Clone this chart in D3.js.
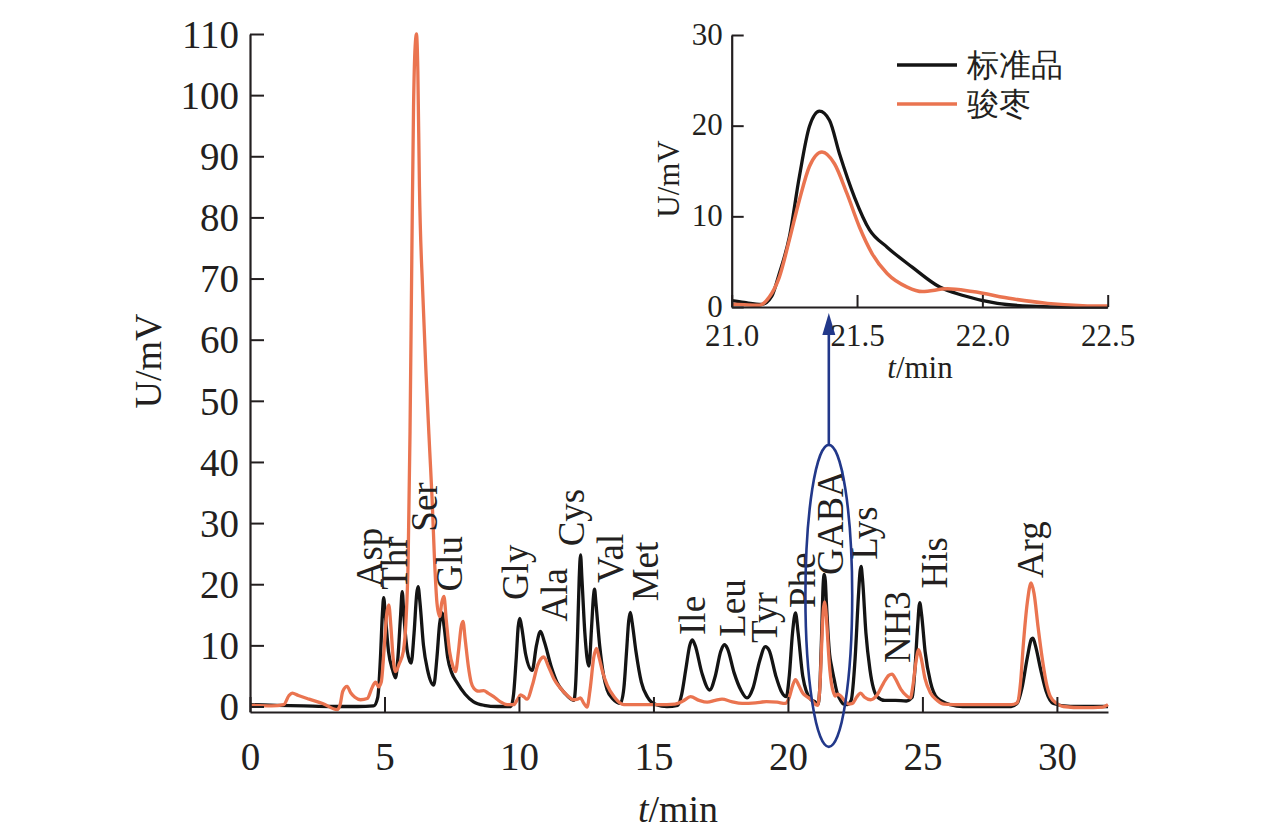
<!DOCTYPE html>
<html><head><meta charset="utf-8">
<script src="https://cdn.jsdelivr.net/npm/d3@7"></script>
<style>
html,body{margin:0;padding:0;background:#fff;}
svg text{font-family:"Liberation Serif","Times New Roman",serif;fill:#231f20;}
</style></head>
<body>
<svg id="chart" width="1276" height="831"></svg>
<script>
// ---------- DATA ----------
// Main chromatogram: standard (标准品) [t(min), U(mV)]
const stdT = [0,1.0,2.0,3.0,4.0,4.6,4.75,4.85,4.92,4.97,5.03,5.15,5.3,5.41,5.5,5.6,5.66,5.72,5.85,5.99,6.1,6.2,6.25,6.32,6.45,6.6,6.83,6.95,7.05,7.14,7.22,7.35,7.5,7.7,8.0,8.3,8.7,9.2,9.7,9.8,9.9,9.97,10.03,10.1,10.25,10.49,10.65,10.8,10.95,11.2,11.42,11.7,12.04,12.1,12.18,12.24,12.29,12.34,12.45,12.6,12.7,12.77,12.81,12.86,13.0,13.15,13.28,13.5,13.77,13.9,14.0,14.08,14.14,14.2,14.35,14.55,14.77,15.1,15.5,15.9,16.05,16.2,16.35,16.44,16.55,16.8,17.09,17.3,17.5,17.64,17.75,18.0,18.25,18.48,18.7,18.95,19.16,19.3,19.55,19.75,19.94,20.05,20.17,20.28,20.38,20.55,20.84,21.0,21.12,21.2,21.27,21.31,21.35,21.39,21.43,21.49,21.55,21.62,21.72,21.83,21.92,22.06,22.2,22.35,22.5,22.62,22.68,22.72,22.77,22.9,23.05,23.32,23.6,24.0,24.4,24.62,24.72,24.82,24.9,24.97,25.1,25.3,25.55,26.04,26.5,27.5,28.3,28.52,28.7,28.9,29.05,29.11,29.2,29.4,29.6,29.87,30.5,31.9];
const stdV = [0.3,0.2,0.1,0,0,0.1,1.5,8,15,17.8,15,9,6,4.7,8,15,18.8,15,9,7.1,12,18.5,19.6,17,10,6,3.5,8,13.5,15.3,13,8,5.5,3.9,2,0.8,0.2,0,0,2,8,13,14.4,13,8.5,5.9,10,12.3,10.5,6.5,3.9,2.2,1.0,3,12,21,24.8,21,12,6.6,13,18,19.2,17,10,5,2.7,1.2,0.5,3,9,14,15.4,14,9,4,1.6,0.3,0,0.2,2,6,10,10.9,10,5.5,2.7,5,9,10.1,9.5,5.5,2.7,1.4,3,7.5,9.8,9.2,5,2.5,1.6,5,12,15.3,12,5,1.2,0.8,0.3,4.5,14.4,20,21.6,20.6,16.9,12.1,8.5,6.6,4.4,2.2,1.3,0.4,0.3,1,8,18,22,22.9,21,12,6,1.6,1.0,1.0,0.9,1.5,6,13,17.0,15,9,4,1.4,0.3,0,0,0,0.5,3,8,11,11.2,10,6,2.5,0.5,0,0];
// Main chromatogram: sample (骏枣)
const smpT = [0,0.8,1.25,1.45,1.57,1.8,2.2,2.7,3.24,3.35,3.45,3.61,3.75,3.9,4.11,4.36,4.55,4.67,4.78,4.88,4.98,5.08,5.16,5.24,5.32,5.41,5.55,5.7,5.8,5.88,5.95,6.02,6.08,6.14,6.19,6.24,6.3,6.42,6.55,6.68,6.77,6.86,6.95,7.05,7.13,7.21,7.3,7.42,7.55,7.64,7.75,7.85,7.92,8.0,8.12,8.22,8.32,8.5,8.69,8.85,9.06,9.3,9.56,9.8,9.95,10.06,10.18,10.3,10.5,10.7,10.92,11.1,11.3,11.54,11.8,12.04,12.18,12.29,12.4,12.53,12.65,12.78,12.88,12.98,13.12,13.28,13.55,13.9,14.5,15.2,15.8,16.1,16.38,16.7,17.0,17.3,17.55,17.9,18.3,18.8,19.2,19.6,19.9,20.05,20.18,20.28,20.4,20.55,20.71,20.9,21.0,21.11,21.15,21.19,21.23,21.27,21.31,21.36,21.41,21.46,21.51,21.56,21.62,21.7,21.76,21.86,21.96,22.12,22.26,22.4,22.55,22.7,22.85,23.07,23.3,23.55,23.75,23.87,24.0,24.2,24.4,24.55,24.65,24.75,24.86,24.95,25.1,25.3,25.55,25.8,26.5,27.5,28.3,28.52,28.65,28.75,28.9,29.04,29.15,29.3,29.45,29.6,29.76,30.0,30.24,31.0,31.7,31.9];
const smpV = [0.2,0.1,0.3,1.8,2.2,1.8,1.2,0.5,-0.5,0.3,2.5,3.3,2.2,1.5,1.1,1.3,3.2,4.0,3.2,4,9,15,16.6,13,8,5.7,7,9,14,24,45,75,98,108,110,104,85,68,54,42,34,24,17,14.7,17,18.0,14,9,6.5,5.7,9,13,13.9,11,6.5,4,3.0,2.5,2.6,2.2,1.6,0.8,0.3,0.3,1.2,1.9,1.6,1.2,3.5,6.8,8.1,6.5,4.5,3.0,1.8,1.1,1.2,1.4,0.6,-0.1,3,8,9.5,8,5.5,3.5,1.5,0.3,0.3,0.3,0.4,0.9,1.6,1.0,0.7,1.0,1.2,0.8,0.5,0.6,0.8,0.7,0.5,1.5,3.5,4.4,3.5,2.2,1.6,1.0,0.4,0.2,1.1,3.3,7.4,11.8,15.5,17.1,15.8,12.5,8.8,5.9,3.7,2.2,1.7,2.0,1.7,0.9,0.4,0.5,1.5,2.2,1.5,1.1,1.8,3.8,5.1,5.3,4.5,2.8,1.8,1.4,3.5,7,9.3,8,4.5,2.2,1.0,0.4,0.3,0.3,0.3,0.6,4,10,17,20.2,18.5,13,8,4,1.6,0.5,0,-0.2,-0.1,0.3];

// Inset (21.0 - 22.5 min)
const inStdT = [21.0,21.05,21.12,21.16,21.19,21.23,21.27,21.31,21.35,21.39,21.43,21.49,21.55,21.62,21.72,21.83,21.92,22.06,22.19,22.35,22.5];
const inStdV = [0.7,0.5,0.3,1.2,3.7,7.7,14.4,19.9,21.6,20.6,16.9,12.1,8.5,6.6,4.4,2.2,1.3,0.4,0.1,0,0];
const inSmpT = [21.0,21.05,21.11,21.15,21.19,21.23,21.27,21.31,21.36,21.41,21.46,21.51,21.56,21.62,21.7,21.76,21.86,21.96,22.12,22.26,22.4,22.5];
const inSmpV = [0.3,0.25,0.2,1.1,3.3,7.4,11.8,15.5,17.1,15.8,12.5,8.8,5.9,3.7,2.2,1.7,2.0,1.7,0.9,0.4,0.15,0.1];

// Peak labels and their anchor (t, U) in data coordinates
const peakNames = ["Asp","Thr","Ser","Glu","Gly","Ala","Cys","Val","Met","Ile","Leu","Tyr","Phe","GABA","Lys","NH3","His","Arg"];
const peakT = [4.89,5.82,6.97,7.90,10.32,11.77,12.40,13.88,15.18,16.93,18.42,19.61,21.02,22.06,23.32,24.55,25.93,29.5];
const peakV = [19.5,19.1,28.6,18.8,17.4,13.9,26.2,20.2,17.2,11.7,11.4,10.4,16.1,21.5,24.0,7.1,19.3,21.0];

const xTicks = [0,5,10,15,20,25,30];
const yTicks = [0,10,20,30,40,50,60,70,80,90,100,110];
const inXTicks = [21.0,21.5,22.0,22.5];
const inYTicks = [0,10,20,30];
const seriesNames = ["标准品","骏枣"];
const seriesColors = ["#141414","#ea7450"];

// ---------- DRAW ----------
const svg = d3.select("#chart");
const ink = "#231f20";
const zip = (a,b)=>a.map((t,i)=>[t,b[i]]);

const x = d3.scaleLinear().domain([0,31.9]).range([250,1108]);
const y = d3.scaleLinear().domain([-0.9,110]).range([712,34]);

function styleAxis(g, fs){
  g.selectAll(".domain").attr("stroke",ink).attr("stroke-width",2.2);
  g.selectAll(".tick line").attr("stroke",ink).attr("stroke-width",2);
  g.selectAll(".tick text").attr("font-size",fs).attr("fill",ink)
    .attr("font-family",'"Liberation Serif","Times New Roman",serif');
}

const main = svg.append("g");
const lineMain = d3.line().x(d=>x(d[0])).y(d=>y(d[1])).curve(d3.curveMonotoneX);

main.append("path").datum(zip(stdT,stdV)).attr("d",lineMain)
  .attr("fill","none").attr("stroke",seriesColors[0]).attr("stroke-width",3.3).attr("stroke-linejoin","round");
main.append("path").datum(zip(smpT,smpV)).attr("d",lineMain)
  .attr("fill","none").attr("stroke",seriesColors[1]).attr("stroke-width",3.3).attr("stroke-linejoin","round");

const gx = main.append("g").attr("transform",`translate(0,${y(-0.9)})`)
  .call(d3.axisBottom(x).tickValues(xTicks).tickFormat(d3.format("d")).tickSizeInner(-15).tickSizeOuter(0).tickPadding(30));
styleAxis(gx,39);
const gy = main.append("g").attr("transform",`translate(${x(0)},0)`)
  .call(d3.axisLeft(y).tickValues(yTicks).tickFormat(d3.format("d")).tickSizeInner(-14).tickSizeOuter(0).tickPadding(11));
styleAxis(gy,39);
gy.selectAll(".tick text").attr("dy","0.34em");

// axis titles
svg.append("text").attr("transform",`translate(161,361) rotate(-90)`)
  .attr("text-anchor","middle").attr("font-size",38).text("U/mV");
const xt = svg.append("text").attr("x",678).attr("y",822).attr("text-anchor","middle").attr("font-size",38);
xt.append("tspan").attr("font-style","italic").text("t");
xt.append("tspan").text("/min");

// peak labels
main.selectAll(".plab").data(peakNames).enter().append("text")
  .attr("class","plab")
  .attr("transform",(d,i)=>`translate(${x(peakT[i])},${y(peakV[i])}) rotate(-90)`)
  .attr("text-anchor","start").attr("font-size",37).text(d=>d);

// ellipse + arrow annotation
const navy = "#22388a";
const eC = [21.52, 18.1], eR = [0.87, 24.7];
const ex = x(eC[0]), ey = y(eC[1]);
const erx = x(eC[0]+eR[0]) - ex, ery = ey - y(eC[1]+eR[1]);
svg.append("ellipse").attr("cx",ex).attr("cy",ey).attr("rx",erx).attr("ry",ery)
  .attr("fill","none").attr("stroke",navy).attr("stroke-width",2.6);

// inset scales
const ix = d3.scaleLinear().domain([21.0,22.5]).range([731.7,1107.7]);
const iy = d3.scaleLinear().domain([0,30]).range([307,35]);

const arrowTop = iy(0) + 6;
svg.append("line").attr("x1",ex).attr("x2",ex).attr("y1",ey-ery).attr("y2",arrowTop+18)
  .attr("stroke",navy).attr("stroke-width",2.6);
svg.append("path").attr("d",`M${ex},${arrowTop} L${ex-6.5},${arrowTop+22} L${ex+6.5},${arrowTop+22} Z`)
  .attr("fill",navy);

// inset
const inset = svg.append("g");
const lineIn = d3.line().x(d=>ix(d[0])).y(d=>iy(d[1])).curve(d3.curveMonotoneX);
inset.append("path").datum(zip(inStdT,inStdV)).attr("d",lineIn)
  .attr("fill","none").attr("stroke",seriesColors[0]).attr("stroke-width",3.3);
inset.append("path").datum(zip(inSmpT,inSmpV)).attr("d",lineIn)
  .attr("fill","none").attr("stroke",seriesColors[1]).attr("stroke-width",3.5);

const igx = inset.append("g").attr("transform",`translate(0,${iy(0)})`)
  .call(d3.axisBottom(ix).tickValues(inXTicks).tickFormat(d3.format(".1f")).tickSizeInner(-12).tickSizeOuter(0).tickPadding(17));
styleAxis(igx,31);
const igy = inset.append("g").attr("transform",`translate(${ix(21.0)},0)`)
  .call(d3.axisLeft(iy).tickValues(inYTicks).tickFormat(d3.format("d")).tickSizeInner(-12).tickSizeOuter(0).tickPadding(9));
styleAxis(igy,31);
igy.selectAll(".tick text").attr("dy","0.3em");

svg.append("text").attr("transform",`translate(679,179) rotate(-90)`)
  .attr("text-anchor","middle").attr("font-size",31).text("U/mV");
const ixt = svg.append("text").attr("x",920).attr("y",378).attr("text-anchor","middle").attr("font-size",31);
ixt.append("tspan").attr("font-style","italic").text("t");
ixt.append("tspan").text("/min");

// legend
const leg = svg.append("g");
seriesNames.forEach((n,i)=>{
  const ly = 65 + i*39;
  leg.append("line").attr("x1",897).attr("x2",957).attr("y1",ly).attr("y2",ly)
    .attr("stroke",seriesColors[i]).attr("stroke-width",3.5);
  leg.append("text").attr("x",967).attr("y",ly+11).attr("font-size",32)
    .attr("font-family",'"Noto Sans CJK SC","Noto Sans CJK JP",sans-serif').text(n);
});
</script>
</body></html>
